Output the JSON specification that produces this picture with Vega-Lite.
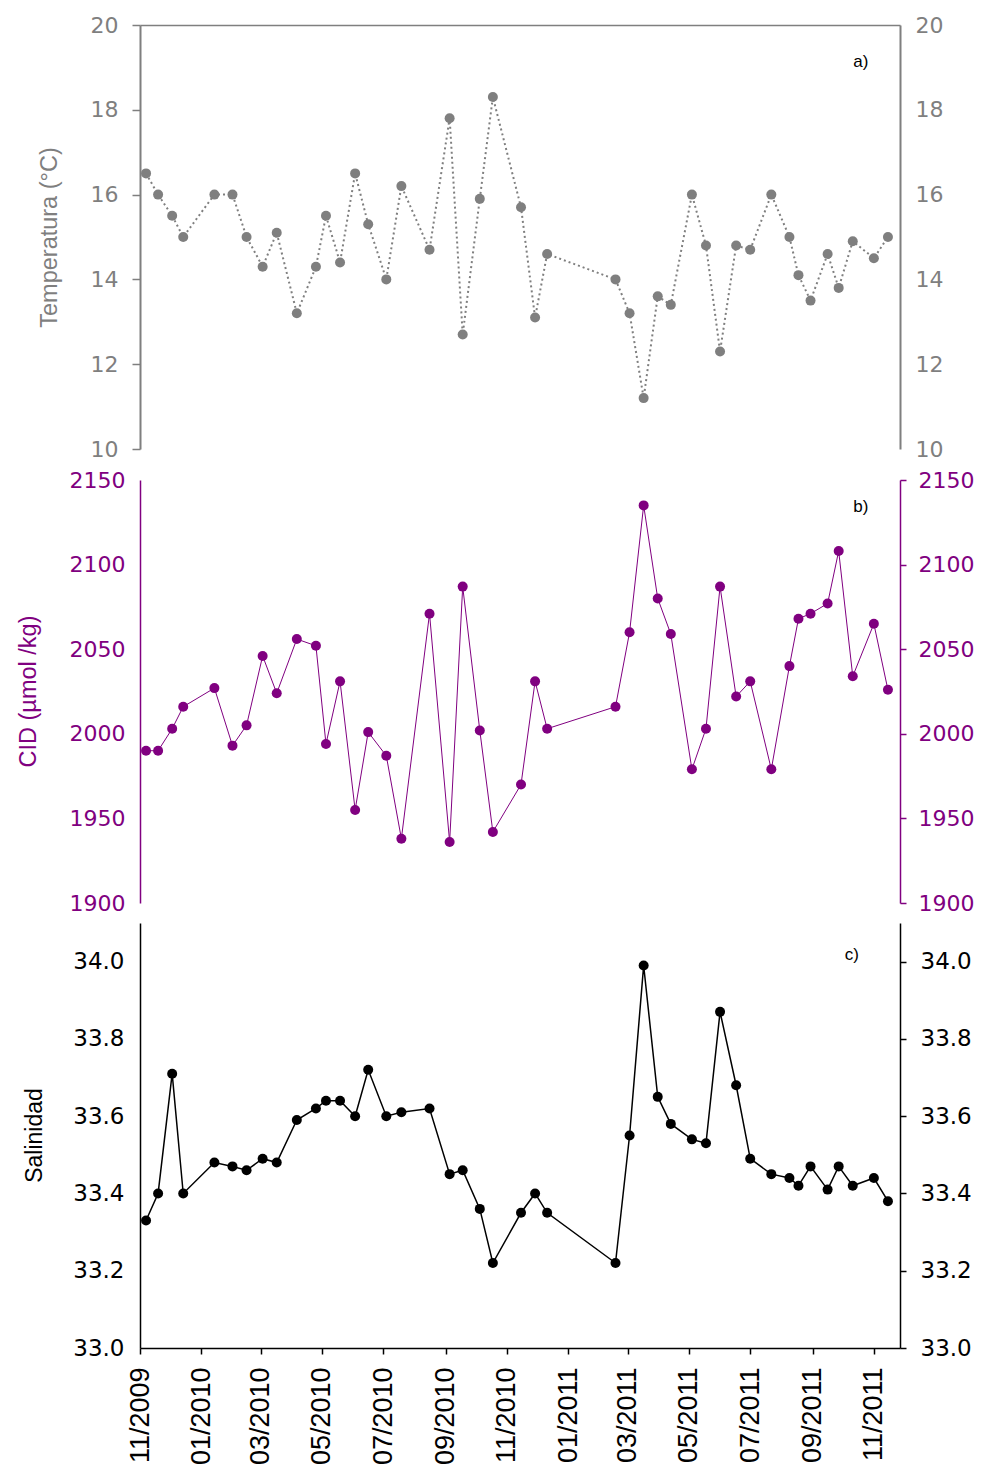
{
  "$schema": "https://vega.github.io/schema/vega-lite/v6.json",
  "autosize": {"type": "pad"},
  "padding": {"left": 16, "top": 14, "right": 0, "bottom": 0},
  "background": "white",
  "config": {
    "view": {"stroke": null},
    "axis": {"grid": false, "labelOverlap": false, "labelFlush": false, "labelBound": false}
  },
  "data": {
    "values": [
      {"date": "2009-11-07", "temp": 16.5, "cid": 1990, "sal": 33.33},
      {"date": "2009-11-19", "temp": 16.0, "cid": 1990, "sal": 33.40},
      {"date": "2009-12-03", "temp": 15.5, "cid": 2003, "sal": 33.71},
      {"date": "2009-12-14", "temp": 15.0, "cid": 2016, "sal": 33.40},
      {"date": "2010-01-14", "temp": 16.0, "cid": 2027, "sal": 33.48},
      {"date": "2010-02-01", "temp": 16.0, "cid": 1993, "sal": 33.47},
      {"date": "2010-02-15", "temp": 15.0, "cid": 2005, "sal": 33.46},
      {"date": "2010-03-03", "temp": 14.3, "cid": 2046, "sal": 33.49},
      {"date": "2010-03-17", "temp": 15.1, "cid": 2024, "sal": 33.48},
      {"date": "2010-04-06", "temp": 13.2, "cid": 2056, "sal": 33.59},
      {"date": "2010-04-25", "temp": 14.3, "cid": 2052, "sal": 33.62},
      {"date": "2010-05-05", "temp": 15.5, "cid": 1994, "sal": 33.64},
      {"date": "2010-05-19", "temp": 14.4, "cid": 2031, "sal": 33.64},
      {"date": "2010-06-03", "temp": 16.5, "cid": 1955, "sal": 33.60},
      {"date": "2010-06-16", "temp": 15.3, "cid": 2001, "sal": 33.72},
      {"date": "2010-07-04", "temp": 14.0, "cid": 1987, "sal": 33.60},
      {"date": "2010-07-19", "temp": 16.2, "cid": 1938, "sal": 33.61},
      {"date": "2010-08-16", "temp": 14.7, "cid": 2071, "sal": 33.62},
      {"date": "2010-09-05", "temp": 17.8, "cid": 1936, "sal": 33.45},
      {"date": "2010-09-18", "temp": 12.7, "cid": 2087, "sal": 33.46},
      {"date": "2010-10-05", "temp": 15.9, "cid": 2002, "sal": 33.36},
      {"date": "2010-10-18", "temp": 18.3, "cid": 1942, "sal": 33.22},
      {"date": "2010-11-15", "temp": 15.7, "cid": 1970, "sal": 33.35},
      {"date": "2010-11-29", "temp": 13.1, "cid": 2031, "sal": 33.40},
      {"date": "2010-12-11", "temp": 14.6, "cid": 2003, "sal": 33.35},
      {"date": "2011-02-17", "temp": 14.0, "cid": 2016, "sal": 33.22},
      {"date": "2011-03-03", "temp": 13.2, "cid": 2060, "sal": 33.55},
      {"date": "2011-03-17", "temp": 11.2, "cid": 2135, "sal": 33.99},
      {"date": "2011-03-31", "temp": 13.6, "cid": 2080, "sal": 33.65},
      {"date": "2011-04-13", "temp": 13.4, "cid": 2059, "sal": 33.58},
      {"date": "2011-05-04", "temp": 16.0, "cid": 1979, "sal": 33.54},
      {"date": "2011-05-18", "temp": 14.8, "cid": 2003, "sal": 33.53},
      {"date": "2011-06-01", "temp": 12.3, "cid": 2087, "sal": 33.87},
      {"date": "2011-06-17", "temp": 14.8, "cid": 2022, "sal": 33.68},
      {"date": "2011-07-01", "temp": 14.7, "cid": 2031, "sal": 33.49},
      {"date": "2011-07-22", "temp": 16.0, "cid": 1979, "sal": 33.45},
      {"date": "2011-08-09", "temp": 15.0, "cid": 2040, "sal": 33.44},
      {"date": "2011-08-18", "temp": 14.1, "cid": 2068, "sal": 33.42},
      {"date": "2011-08-30", "temp": 13.5, "cid": 2071, "sal": 33.47},
      {"date": "2011-09-16", "temp": 14.6, "cid": 2077, "sal": 33.41},
      {"date": "2011-09-27", "temp": 13.8, "cid": 2108, "sal": 33.47},
      {"date": "2011-10-11", "temp": 14.9, "cid": 2034, "sal": 33.42},
      {"date": "2011-11-01", "temp": 14.5, "cid": 2065, "sal": 33.44},
      {"date": "2011-11-15", "temp": 15.0, "cid": 2026, "sal": 33.38}
    ]
  },
  "spacing": 9,
  "vconcat": [
    {
      "width": 760,
      "height": 424,
      "layer": [
        {
          "mark": {"type": "line", "color": "#7f7f7f", "strokeWidth": 2, "strokeDash": [2, 3]},
          "encoding": {
            "x": {"field": "date", "type": "temporal",
              "scale": {"type": "utc", "domain": [{"year": 2009, "month": 11, "date": 1, "utc": true}, {"year": 2011, "month": 11, "date": 27, "utc": true}]},
              "axis": {"orient": "top", "labels": false, "ticks": false, "tickSize": 0, "title": null, "domainColor": "#7f7f7f", "domainWidth": 1.5}},
            "y": {"field": "temp", "type": "quantitative",
              "scale": {"domain": [10, 20], "nice": false, "zero": false},
              "axis": {"orient": "left", "values": [10, 12, 14, 16, 18, 20], "title": "Temperatura (°C)",
                "titleFont": "Liberation Sans", "titleFontSize": 23.5, "titleFontWeight": "normal", "titleColor": "#7f7f7f",
                "titleAngle": -90, "titleX": -91, "titleY": 212, "titleAlign": "center", "titleBaseline": "middle",
                "labelFont": "DejaVu Sans", "labelFontSize": 22, "labelColor": "#7f7f7f", "labelPadding": 14,
                "tickSize": 8, "tickColor": "#7f7f7f", "tickWidth": 1.5, "domainColor": "#7f7f7f", "domainWidth": 2}}
          }
        },
        {
          "mark": {"type": "point", "filled": true, "size": 100, "color": "#7f7f7f", "opacity": 1},
          "encoding": {
            "x": {"field": "date", "type": "temporal"},
            "y": {"field": "temp", "type": "quantitative",
              "axis": {"orient": "right", "values": [10, 12, 14, 16, 18, 20], "title": null, "ticks": false, "tickSize": 0,
                "labelFont": "DejaVu Sans", "labelFontSize": 22, "labelColor": "#7f7f7f", "labelPadding": 15,
                "domainColor": "#7f7f7f", "domainWidth": 2}}
          }
        },
        {
          "data": {"values": [{"label": "a)"}]},
          "mark": {"type": "text", "font": "Liberation Sans", "fontSize": 17, "color": "black", "align": "center", "baseline": "middle"},
          "encoding": {
            "x": {"datum": {"year": 2011, "month": 10, "date": 19, "utc": true}, "type": "temporal"},
            "y": {"datum": 19.13, "type": "quantitative", "axis": null},
            "text": {"field": "label"}
          }
        }
      ],
      "resolve": {"axis": {"y": "independent"}}
    },
    {
      "width": 760,
      "height": 423,
      "layer": [
        {
          "mark": {"type": "line", "color": "#800080", "strokeWidth": 1},
          "encoding": {
            "x": {"field": "date", "type": "temporal",
              "scale": {"type": "utc", "domain": [{"year": 2009, "month": 11, "date": 1, "utc": true}, {"year": 2011, "month": 11, "date": 27, "utc": true}]},
              "axis": null},
            "y": {"field": "cid", "type": "quantitative",
              "scale": {"domain": [1900, 2150], "nice": false, "zero": false},
              "axis": {"orient": "left", "values": [1900, 1950, 2000, 2050, 2100, 2150], "format": "d", "title": "CID (µmol /kg)",
                "titleFont": "Liberation Sans", "titleFontSize": 23.5, "titleFontWeight": "normal", "titleColor": "#800080",
                "titleAngle": -90, "titleX": -112, "titleY": 211, "titleAlign": "center", "titleBaseline": "middle",
                "labelFont": "DejaVu Sans", "labelFontSize": 22, "labelColor": "#800080", "labelPadding": 15,
                "ticks": false, "tickSize": 0, "domainColor": "#800080", "domainWidth": 1.5}}
          }
        },
        {
          "mark": {"type": "point", "filled": true, "size": 100, "color": "#800080", "opacity": 1},
          "encoding": {
            "x": {"field": "date", "type": "temporal", "axis": null},
            "y": {"field": "cid", "type": "quantitative",
              "axis": {"orient": "right", "values": [1900, 1950, 2000, 2050, 2100, 2150], "format": "d", "title": null,
                "tickSize": 6, "tickColor": "#800080", "tickWidth": 1.5,
                "labelFont": "DejaVu Sans", "labelFontSize": 22, "labelColor": "#800080", "labelPadding": 12,
                "domainColor": "#800080", "domainWidth": 1.5}}
          }
        },
        {
          "data": {"values": [{"label": "b)"}]},
          "mark": {"type": "text", "font": "Liberation Sans", "fontSize": 17, "color": "black", "align": "center", "baseline": "middle"},
          "encoding": {
            "x": {"datum": {"year": 2011, "month": 10, "date": 19, "utc": true}, "type": "temporal", "axis": null},
            "y": {"datum": 2134, "type": "quantitative", "axis": null},
            "text": {"field": "label"}
          }
        }
      ],
      "resolve": {"axis": {"y": "independent"}}
    },
    {
      "width": 760,
      "height": 425,
      "layer": [
        {
          "mark": {"type": "line", "color": "black", "strokeWidth": 1.5},
          "encoding": {
            "x": {"field": "date", "type": "temporal",
              "scale": {"type": "utc", "domain": [{"year": 2009, "month": 11, "date": 1, "utc": true}, {"year": 2011, "month": 11, "date": 27, "utc": true}]},
              "axis": {"orient": "bottom", "title": null, "format": "%m/%Y",
                "values": [
                  {"year": 2009, "month": 11, "date": 1, "utc": true},
                  {"year": 2010, "month": 1, "date": 1, "utc": true},
                  {"year": 2010, "month": 3, "date": 1, "utc": true},
                  {"year": 2010, "month": 5, "date": 1, "utc": true},
                  {"year": 2010, "month": 7, "date": 1, "utc": true},
                  {"year": 2010, "month": 9, "date": 1, "utc": true},
                  {"year": 2010, "month": 11, "date": 1, "utc": true},
                  {"year": 2011, "month": 1, "date": 1, "utc": true},
                  {"year": 2011, "month": 3, "date": 1, "utc": true},
                  {"year": 2011, "month": 5, "date": 1, "utc": true},
                  {"year": 2011, "month": 7, "date": 1, "utc": true},
                  {"year": 2011, "month": 9, "date": 1, "utc": true},
                  {"year": 2011, "month": 11, "date": 1, "utc": true}
                ],
                "labelAngle": -90, "labelAlign": "right", "labelBaseline": "middle",
                "labelFont": "Liberation Sans", "labelFontSize": 27, "labelColor": "black", "labelPadding": 13,
                "tickSize": 6, "tickColor": "black", "tickWidth": 1.5, "domainColor": "black", "domainWidth": 1.5}},
            "y": {"field": "sal", "type": "quantitative",
              "scale": {"domain": [33.0, 34.1], "nice": false, "zero": false},
              "axis": {"orient": "left", "values": [33.0, 33.2, 33.4, 33.6, 33.8, 34.0], "format": ".1f", "title": "Salinidad",
                "titleFont": "Liberation Sans", "titleFontSize": 23, "titleFontWeight": "normal", "titleColor": "black",
                "titleAngle": -90, "titleX": -106, "titleY": 212, "titleAlign": "center", "titleBaseline": "middle",
                "labelFont": "DejaVu Sans", "labelFontSize": 23, "labelColor": "black", "labelPadding": 16,
                "ticks": false, "tickSize": 0, "domainColor": "black", "domainWidth": 1.5}}
          }
        },
        {
          "mark": {"type": "point", "filled": true, "size": 100, "color": "black", "opacity": 1},
          "encoding": {
            "x": {"field": "date", "type": "temporal"},
            "y": {"field": "sal", "type": "quantitative",
              "axis": {"orient": "right", "values": [33.0, 33.2, 33.4, 33.6, 33.8, 34.0], "format": ".1f", "title": null,
                "tickSize": 6, "tickColor": "black", "tickWidth": 1.5,
                "labelFont": "DejaVu Sans", "labelFontSize": 23, "labelColor": "black", "labelPadding": 14,
                "domainColor": "black", "domainWidth": 1.5}}
          }
        },
        {
          "data": {"values": [{"label": "c)"}]},
          "mark": {"type": "text", "font": "Liberation Sans", "fontSize": 17, "color": "black", "align": "center", "baseline": "middle"},
          "encoding": {
            "x": {"datum": {"year": 2011, "month": 10, "date": 10, "utc": true}, "type": "temporal"},
            "y": {"datum": 34.016, "type": "quantitative", "axis": null},
            "text": {"field": "label"}
          }
        }
      ],
      "resolve": {"axis": {"y": "independent"}}
    }
  ]
}
